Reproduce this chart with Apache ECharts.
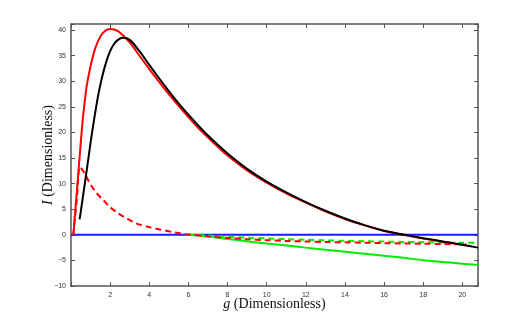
<!DOCTYPE html>
<html><head><meta charset="utf-8">
<script src="https://cdn.jsdelivr.net/npm/echarts@6/dist/echarts.min.js"></script>
<style>html,body{margin:0;padding:0;background:#fff}#c{width:527px;height:323px}</style>
</head><body><div id="c"></div>
<script>
// ---- data ----
var xTicks = [2,4,6,8,10,12,14,16,18,20];
var yTicks = [-10,-5,0,5,10,15,20,25,30,35,40];

var redSolidG = [0.12,0.3,0.4,0.51,0.6,0.7,0.8,1.0,1.2,1.4,1.6,1.8,2.0,2.4,3.0,3.5,4.0,4.5,5.0,5.5,6.0,6.5,7.0,7.5,8.0,9.0,10,11,12,13,14,15,16,17,18,19,20,20.2];
var redSolidI = [0,8.5,13.3,18.5,22.5,26,29,33,36,38,39.3,40.0,40.2,39.8,37.6,35.0,32.4,29.9,27.5,25.2,23.0,20.9,19.0,17.2,15.5,12.6,10.2,8.1,6.3,4.6,3.1,1.85,0.75,0.0,-0.7,-1.35,-1.95,-2.05];

var blackG = [0.44,0.6,0.8,1.0,1.2,1.4,1.6,1.8,2.0,2.2,2.4,2.65,3.0,3.5,4.0,4.5,5.0,5.5,6.0,6.5,7.0,7.5,8.0,9.0,10,11,12,13,14,15,16,17,18,19,20,20.8];
var blackI = [3,7.2,12.5,18,23,27.5,31,33.8,35.9,37.3,38.1,38.5,38.1,35.9,33.2,30.6,28.1,25.7,23.5,21.4,19.4,17.6,15.9,12.9,10.4,8.3,6.4,4.7,3.2,1.9,0.8,0.05,-0.65,-1.3,-1.95,-2.5];

var redDashG = [0.12,0.3,0.46,0.7,0.97,1.3,1.65,2.0,2.41,2.9,3.35,4.0,4.53,5.2,5.89,7,8,9,10,11,12,13,14,15,16,17,18,19,20.2];
var redDashI = [0,7,13.3,12,10,8.2,6.8,5.4,4.2,3.1,2.2,1.5,1.05,0.55,0.13,-0.3,-0.6,-0.85,-1.05,-1.2,-1.3,-1.4,-1.47,-1.55,-1.62,-1.68,-1.74,-1.8,-1.85];

var greenSolidG = [6,7,8,9,10,11,12,13,14,15,16,17,18,19,20,20.8];
var greenSolidI = [0,-0.35,-0.8,-1.25,-1.7,-2.1,-2.5,-2.9,-3.3,-3.7,-4.1,-4.5,-4.95,-5.3,-5.65,-5.9];

var greenDashG = [6,7,8,9,10,11,12,13,14,15,16,17,18,19,20,20.8];
var greenDashI = [0,-0.15,-0.35,-0.55,-0.7,-0.85,-0.97,-1.08,-1.17,-1.25,-1.32,-1.38,-1.44,-1.5,-1.54,-1.58];

var blueG = [0,20.8];
var blueI = [0,0];

function pairs(a,b){return a.map(function(v,i){return [v,b[i]];});}

var axisCol = '#555';
var chart = echarts.init(document.getElementById('c'));
function line(name,g,I,color,dashed,z){
  return {name:name,type:'line',data:pairs(g,I),showSymbol:false,smooth:0.3,z:z||2,
    lineStyle:{color:color,width:2,type:dashed?[6,4]:'solid'}, silent:true};
}
var titleStyle = {fontFamily:'Liberation Serif',fontSize:14,color:'#111',
  rich:{i:{fontFamily:'Liberation Serif',fontStyle:'italic',fontSize:14,color:'#111'}}};
chart.setOption({
  animation:false,
  grid:{left:71,right:49,top:24,bottom:37},
  xAxis:[{type:'value',min:0,max:20.8,interval:2,
    name:'{i|g} (Dimensionless)',nameLocation:'middle',nameGap:11,nameMoveOverlap:false,
    nameTextStyle:titleStyle,
    axisLine:{onZero:false,lineStyle:{color:axisCol,width:1.5}},
    axisTick:{inside:true,length:4,lineStyle:{color:axisCol}},
    axisLabel:{fontFamily:'Liberation Sans',fontSize:7,color:'#333',margin:6,
      formatter:function(v){return xTicks.indexOf(v)>=0?String(v):'';}},
    splitLine:{show:false}},
   {type:'value',position:'top',min:0,max:20.8,interval:2,
    axisLine:{show:true,onZero:false,lineStyle:{color:axisCol,width:1.5}},
    axisTick:{show:true,inside:true,length:4,lineStyle:{color:axisCol}},
    axisLabel:{show:false},splitLine:{show:false}}],
  yAxis:[{type:'value',min:-10,max:41.2,interval:5,
    name:'{i|I} (Dimensionless)',nameLocation:'middle',nameGap:16,nameRotate:90,nameMoveOverlap:false,
    nameTextStyle:titleStyle,
    axisLine:{onZero:false,lineStyle:{color:axisCol,width:1.5}},
    axisTick:{inside:true,length:4,lineStyle:{color:axisCol}},
    axisLabel:{fontFamily:'Liberation Sans',fontSize:7,color:'#333',margin:5,
      formatter:function(v){return yTicks.indexOf(v)>=0?(v<0?'\u2212'+(-v):String(v)):'';}},
    splitLine:{show:false}},
   {type:'value',position:'right',min:-10,max:41.2,interval:5,
    axisLine:{show:true,onZero:false,lineStyle:{color:axisCol,width:1.5}},
    axisTick:{show:true,inside:true,length:4,lineStyle:{color:axisCol}},
    axisLabel:{show:false},splitLine:{show:false}}],
  series:[
    line('blue',blueG,blueI,'#1a1aff',false,1),
    line('greenSolid',greenSolidG,greenSolidI,'#00ee00',false,2),
    line('greenDash',greenDashG,greenDashI,'#00ee00',true,2),
    line('redDash',redDashG,redDashI,'#ff0000',true,3),
    line('redSolid',redSolidG,redSolidI,'#ff0000',false,3),
    line('black',blackG,blackI,'#000000',false,4)
  ]
});
</script></body></html>
